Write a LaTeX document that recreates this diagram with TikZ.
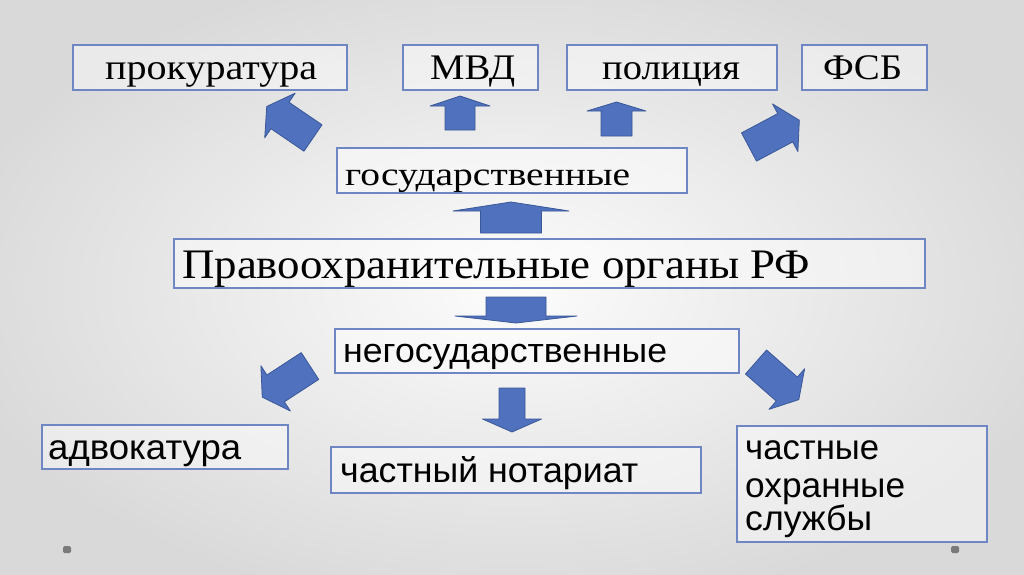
\documentclass[tikz,border=0pt]{standalone}
\usepackage{fontspec}
\setmainfont{Liberation Serif}
\newfontfamily\sansf{Liberation Sans}
\usepackage{graphicx}
\definecolor{bgedge}{HTML}{D9D9D9}
\definecolor{bgmid}{HTML}{FCFCFC}
\definecolor{boxline}{HTML}{6E87C2}
\definecolor{arrfill}{HTML}{4F71BE}
\definecolor{arrline}{HTML}{3A5797}
\definecolor{dotcol}{HTML}{7A7A7A}
\newcommand{\fitt}[2]{\resizebox{#1}{\height}{#2}}
\newcommand{\blkarrow}[6]{%
  \begin{scope}[shift={#1}, rotate=#2]
    \filldraw[arrowsty] (0,-#4/2) -- (#3-#6,-#4/2) -- (#3-#6,-#5/2) -- (#3,0) -- (#3-#6,#5/2) -- (#3-#6,#4/2) -- (0,#4/2) -- cycle;
  \end{scope}}
\tikzset{
  boxsty/.style={draw=boxline, line width=2pt, fill=white, fill opacity=0.45, text opacity=1, rectangle, inner sep=0pt},
  txtsty/.style={inner sep=0pt, anchor=base west, text=black},
  arrowsty/.style={fill=arrfill, draw=arrline, line width=0.8pt, line join=round},
}
\begin{document}
\begin{tikzpicture}[x=1pt,y=-1pt]
\useasboundingbox (0,0) rectangle (1024,574);
\begin{scope}
\clip (0,0) rectangle (1024,574);
\shade[inner color=bgmid, outer color=bgedge] (-60,-40) rectangle (1084,614);
\end{scope}
% boxes
\node[boxsty, minimum width=274pt, minimum height=45pt] (bprok) at (210,67.5) {};
\node[boxsty, minimum width=135pt, minimum height=45pt] (bmvd) at (470.5,67.5) {};
\node[boxsty, minimum width=210pt, minimum height=45pt] (bpol) at (672,67.5) {};
\node[boxsty, minimum width=125pt, minimum height=45pt] (bfsb) at (864.5,67.5) {};
\node[boxsty, minimum width=350pt, minimum height=45pt] (bgos) at (512,170.5) {};
\node[boxsty, minimum width=751pt, minimum height=49pt] (bmain) at (549.5,263.5) {};
\node[boxsty, minimum width=404pt, minimum height=44pt] (bneg) at (537,351) {};
\node[boxsty, minimum width=246pt, minimum height=44pt] (badv) at (165,447) {};
\node[boxsty, minimum width=370pt, minimum height=46pt] (bnot) at (516,470) {};
\node[boxsty, minimum width=250pt, minimum height=116pt] (bsec) at (862,484) {};
% texts
\node[txtsty] (tprok) at (105,79) {\fitt{212pt}{\fontsize{36}{40}\selectfont прокуратура}};
\node[txtsty] (tmvd) at (430,79) {\fitt{85pt}{\fontsize{36}{40}\selectfont МВД}};
\node[txtsty] (tpol) at (602,79) {\fitt{138pt}{\fontsize{36}{40}\selectfont полиция}};
\node[txtsty] (tfsb) at (823,79) {\fitt{79pt}{\fontsize{36}{40}\selectfont ФСБ}};
\node[txtsty] (tgos) at (345,185) {\fitt{285pt}{\fontsize{33}{38}\selectfont государственные}};
\node[txtsty] (tmain) at (182,278) {\fitt{628pt}{\fontsize{42}{48}\selectfont Правоохранительные органы РФ}};
\node[txtsty] (tneg) at (343,362) {\fitt{324pt}{\sansf\fontsize{34}{40}\selectfont негосударственные}};
\node[txtsty] (tadv) at (48,459) {\fitt{193pt}{\sansf\fontsize{35}{40}\selectfont адвокатура}};
\node[txtsty] (tnot) at (340,482) {\fitt{298pt}{\sansf\fontsize{35}{40}\selectfont частный нотариат}};
\node[txtsty] (tsec1) at (745,459) {\fitt{134pt}{\sansf\fontsize{35}{40}\selectfont частные}};
\node[txtsty] (tsec2) at (745,497) {\fitt{160pt}{\sansf\fontsize{35}{40}\selectfont охранные}};
\node[txtsty] (tsec3) at (745,530) {\fitt{127pt}{\sansf\fontsize{35}{40}\selectfont службы}};
% block arrows
\blkarrow{(313,138)}{145.7}{56}{32}{54}{16}
\blkarrow{(460,130)}{90}{34}{30}{60}{10}
\blkarrow{(616.5,136)}{90}{34}{31}{59}{9}
\blkarrow{(749,147)}{28}{57}{32}{54}{16}
\blkarrow{(511,233)}{90}{31}{61}{116}{9}
\blkarrow{(516,297)}{-90}{26}{60}{122}{7}
\blkarrow{(512,388)}{-90}{44}{26}{59}{13}
\blkarrow{(310,366)}{-146.9}{57}{32}{54}{16}
\blkarrow{(756,362)}{-41.3}{57}{32}{54}{16}
% dots
\fill[dotcol, rounded corners=1.5pt] (63,546) rectangle (71,553);
\fill[dotcol, rounded corners=1.5pt] (951,546) rectangle (959,553);
\end{tikzpicture}
\end{document}
